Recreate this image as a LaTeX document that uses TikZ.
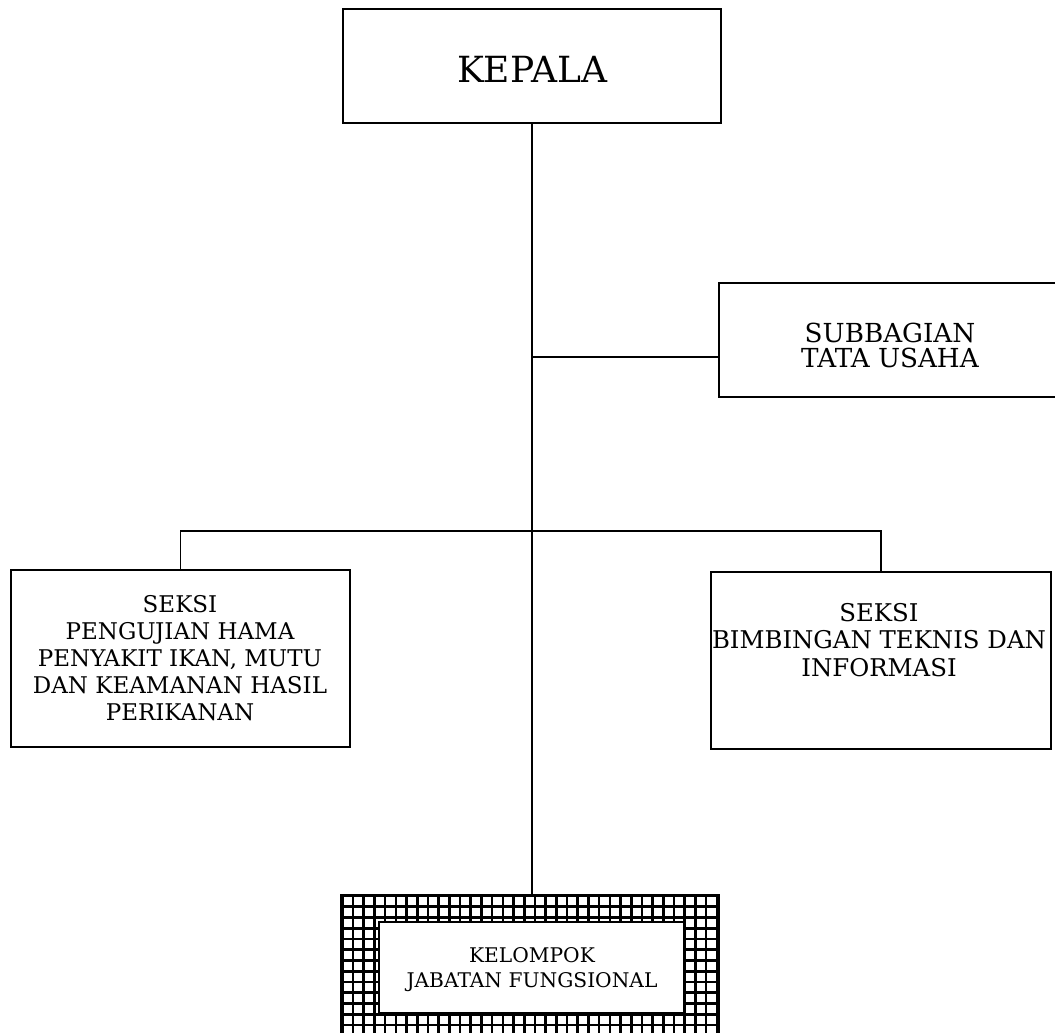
\documentclass[tikz,border=0pt]{standalone}
\usepackage{fontspec}
\setmainfont{DejaVu Serif}
\usetikzlibrary{fit}
\begin{document}
\begin{tikzpicture}[x=0.5pt,y=-0.5pt,
  box/.style={draw=black,line width=0.7pt,inner sep=0pt,fill=white},
  txt/.style={inner sep=0pt,align=center},
  conn/.style={line width=0.9pt,line cap=rect},
  hatchline/.style={line width=1.3pt,black}]
\useasboundingbox (0,0) rectangle (1055,1033);
% boxes
\node[box,fit={(343,9) (721,123)}] (kepala) {};
\node[txt,font=\fontsize{18}{20}\selectfont] (tkepala) at (532,69) {KEPALA};
\node[box,fit={(719,283) (1062,397)}] (sub) {};
\node[txt,font=\fontsize{13.1}{12.5}\selectfont] (tsub) at (890,345.5) {SUBBAGIAN\\TATA USAHA};
\node[box,fit={(11,570) (350,747)}] (left) {};
\node[txt,font=\fontsize{11.5}{13.5}\selectfont] (tleft) at (180,658) {SEKSI\\PENGUJIAN HAMA\\PENYAKIT IKAN, MUTU\\DAN KEAMANAN HASIL\\PERIKANAN};
\node[box,fit={(711,572) (1051,749)}] (right) {};
\node[txt,font=\fontsize{12.2}{13.75}\selectfont] (tright) at (879,640) {SEKSI\\BIMBINGAN TEKNIS DAN\\INFORMASI};
% kelompok hatched box
\node[inner sep=0pt,fit={(342,896) (718,1050)}] (kel) {};
\begin{scope}
  \clip (kel.north west) rectangle (kel.south east);
  \fill[white] (kel.north west) rectangle (kel.south east);
  \foreach \i in {0,...,36} {\draw[hatchline] (342.3+\i*10.7,890) -- (342.3+\i*10.7,1050);}
  \foreach \j in {0,...,15} {\draw[hatchline] (330,896+\j*10.75) -- (730,896+\j*10.75);}
\end{scope}
\draw[line width=1.2pt] (kel.south west) -- (kel.north west) -- (kel.north east) -- (kel.south east);
\node[draw=black,line width=1.3pt,fill=white,inner sep=0pt,fit={(379,922) (684,1013)}] (kelin) {};
\node[txt,font=\fontsize{10.1}{12.5}\selectfont] (tkel) at (532,970) {KELOMPOK\\JABATAN FUNGSIONAL};
% connectors
\coordinate (j1) at (kepala.south |- 0,357);
\coordinate (j2) at (kepala.south |- 0,531);
\draw[conn] (kepala.south) -- (kepala.south |- kel.north);
\draw[conn] (j1) -- (j1 -| sub.west);
\draw[conn] (left.north) |- (j2) -| (right.north);
\end{tikzpicture}
\end{document}
